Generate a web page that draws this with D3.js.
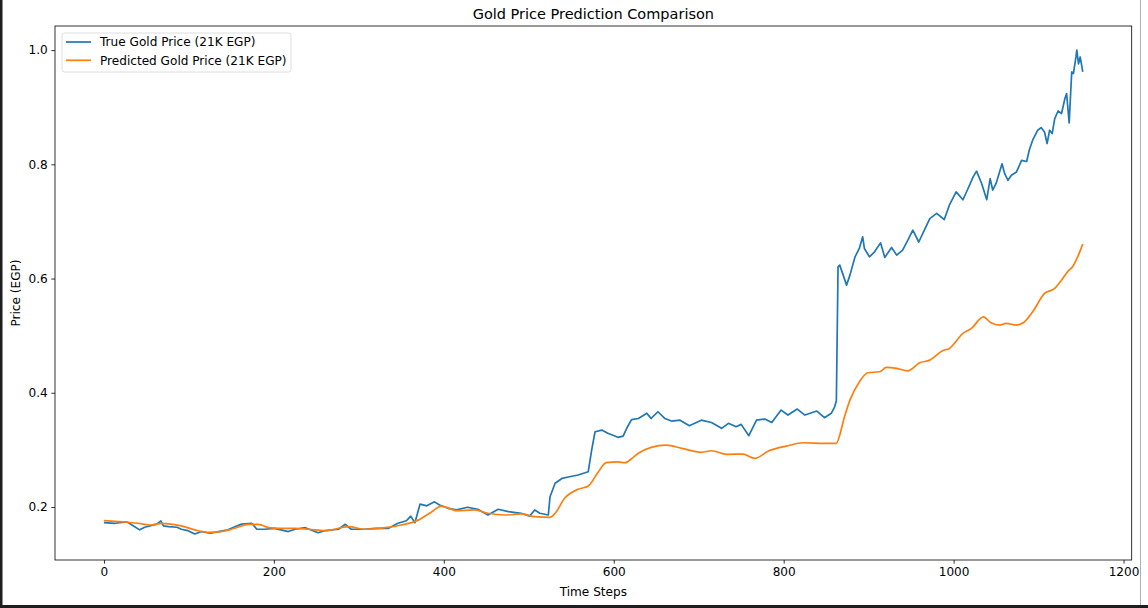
<!DOCTYPE html>
<html>
<head>
<meta charset="utf-8">
<script src="https://cdn.jsdelivr.net/npm/d3@7"></script>
<style>
    body { margin: 0; background: #fff; }
    svg { display: block; font-family: "DejaVu Sans", sans-serif; }
</style>
</head>
<body>
<div id="chart"></div>
<script>
// giá trị (bước thời gian, giá đã chuẩn hoá)
const trueSteps = [0, 13, 27, 33, 42, 48, 54, 62, 67, 70, 76, 86, 91, 99, 107, 115, 125, 135, 146, 154,
    162, 174, 180, 189, 201, 217, 225, 237, 252, 260, 276, 284, 291, 307, 319, 335, 346, 356, 361, 366,
    372, 380, 389, 395, 405, 415, 428, 440, 452, 464, 476, 491, 501, 507, 513, 523, 525, 531, 539, 548,
    558, 570, 574, 578, 586, 593, 605, 611, 616, 621, 629, 639, 644, 652, 660, 668, 678, 689, 703, 715,
    727, 735, 744, 750, 759, 768, 778, 786, 797, 805, 816, 825, 839, 848, 856, 860, 862, 864, 866, 870,
    874, 878, 884, 889, 893, 895, 901, 907, 914, 919, 927, 933, 940, 946, 952, 959, 966, 972, 980, 989,
    995, 1003, 1011, 1017, 1023, 1027, 1033, 1039, 1043, 1046, 1050, 1057, 1060, 1064, 1068, 1074, 1080, 1086, 1089, 1093,
    1099, 1103, 1107, 1110, 1113, 1116, 1119, 1123, 1127, 1131, 1133, 1136, 1139, 1141, 1144, 1145, 1147, 1149, 1152];
const trueValues = [0.1725, 0.1715, 0.174, 0.1685, 0.160, 0.1645, 0.1667, 0.170, 0.1755, 0.167, 0.1655, 0.1645, 0.161, 0.1585, 0.1527, 0.157, 0.154, 0.157, 0.160, 0.1655,
    0.170, 0.1715, 0.161, 0.161, 0.1627, 0.157, 0.161, 0.1638, 0.155, 0.1585, 0.161, 0.1697, 0.161, 0.161, 0.1627, 0.1627, 0.1715, 0.176, 0.184, 0.1725,
    0.205, 0.202, 0.209, 0.2035, 0.1977, 0.195, 0.1995, 0.196, 0.186, 0.196, 0.1918, 0.189, 0.184, 0.1948, 0.189, 0.186, 0.218, 0.2415, 0.250, 0.253,
    0.256, 0.2618, 0.2997, 0.3318, 0.3347, 0.329, 0.322, 0.324, 0.340, 0.353, 0.355, 0.364, 0.355, 0.3668, 0.355, 0.3505, 0.352, 0.3423, 0.352, 0.348,
    0.3377, 0.3465, 0.3405, 0.3447, 0.3248, 0.352, 0.354, 0.348, 0.3697, 0.361, 0.3715, 0.361, 0.368, 0.3563, 0.364, 0.3755, 0.386, 0.6205, 0.6235, 0.606,
    0.5885, 0.606, 0.638, 0.6527, 0.673, 0.6527, 0.638, 0.6468, 0.6625, 0.637, 0.6545, 0.641, 0.6497, 0.667, 0.6847, 0.664, 0.686, 0.705, 0.714, 0.7034,
    0.7285, 0.7517, 0.738, 0.7577, 0.778, 0.788, 0.7665, 0.738, 0.775, 0.755, 0.7665, 0.801, 0.784, 0.772, 0.781, 0.7867, 0.807, 0.805, 0.8247, 0.8422,
    0.8597, 0.8644, 0.8567, 0.8364, 0.8597, 0.8539, 0.88, 0.8934, 0.8889, 0.9152, 0.924, 0.8725, 0.9617, 0.959, 0.988, 1.0, 0.976, 0.988, 0.9617];

const predSteps = [0, 29, 40, 56, 68, 91, 107, 123, 138, 154, 170, 182, 194, 206, 225, 241, 260, 288, 307, 331,
    350, 370, 386, 397, 409, 415, 436, 452, 472, 491, 507, 525, 531, 542, 558, 570, 582, 591, 605, 613,
    623, 629, 644, 662, 680, 703, 715, 733, 752, 766, 782, 805, 823, 848, 862, 866, 871, 878, 889, 899,
    913, 921, 933, 946, 960, 972, 987, 995, 1011, 1021, 1035, 1044, 1054, 1062, 1074, 1082, 1093, 1107, 1119, 1127,
    1135, 1140, 1146, 1152];
const predValues = [0.176, 0.173, 0.1715, 0.1685, 0.1715, 0.167, 0.160, 0.1557, 0.157, 0.1627, 0.1697, 0.1697, 0.1638, 0.1627, 0.1627, 0.161, 0.1585, 0.1655, 0.161, 0.1638,
    0.1685, 0.177, 0.1918, 0.2017, 0.196, 0.1935, 0.1948, 0.189, 0.186, 0.1878, 0.183, 0.182, 0.189, 0.215, 0.231, 0.2367, 0.2618, 0.2776, 0.279, 0.2775,
    0.287, 0.294, 0.3045, 0.3085, 0.3027, 0.2957, 0.2985, 0.2922, 0.2927, 0.2852, 0.298, 0.3073, 0.3125, 0.3115, 0.3115, 0.326, 0.355, 0.3872, 0.419, 0.435,
    0.4368, 0.4444, 0.4427, 0.4385, 0.4525, 0.4572, 0.4735, 0.4777, 0.5039, 0.5127, 0.533, 0.5225, 0.5185, 0.5214, 0.5185, 0.5225, 0.5417, 0.5739, 0.5827, 0.5972,
    0.6135, 0.6205, 0.638, 0.6602];

const xTicks = [0, 200, 400, 600, 800, 1000, 1200];
const yTicks = [0.2, 0.4, 0.6, 0.8, 1.0];
const seriesNames = ["True Gold Price (21K EGP)", "Predicted Gold Price (21K EGP)"];
const seriesColors = ["#1f77b4", "#ff7f0e"];

const W = 1148, H = 608;
const margin = { top: 26, right: 16.3, bottom: 48, left: 55 };
const fs = 12.1;

const trueData = trueSteps.map((s, i) => ({ step: s, value: trueValues[i] }));
const predData = predSteps.map((s, i) => ({ step: s, value: predValues[i] }));

const svg = d3.select("#chart").append("svg")
    .attr("width", W)
    .attr("height", H);

// khung tối của ảnh chụp màn hình
svg.append("rect").attr("x", 0).attr("y", 0).attr("width", 2.5).attr("height", H).attr("fill", "#1e1e1e");
svg.append("rect").attr("x", 0).attr("y", 605).attr("width", W).attr("height", 3).attr("fill", "#1e1e1e");
svg.append("line").attr("x1", 1140.5).attr("x2", 1140.5).attr("y1", 0).attr("y2", 605)
    .attr("stroke", "#b0b0b0").attr("stroke-width", 1);

// thang đo giống matplotlib: lề 5% mỗi phía
const xMin = d3.min(trueSteps), xMax = d3.max(trueSteps);
const xPad = (xMax - xMin) * 0.05;
const x = d3.scaleLinear()
    .domain([xMin - xPad, xMax + xPad])
    .range([margin.left, W - margin.right]);

const y = d3.scaleLinear()
    .domain([0.1072, 1.0422])
    .range([H - margin.bottom, margin.top]);

const chart = svg.append("g");

const line = d3.line()
    .x(d => x(d.step))
    .y(d => y(d.value));

chart.append("path")
    .datum(trueData)
    .attr("d", line)
    .attr("fill", "none")
    .attr("stroke", seriesColors[0])
    .attr("stroke-width", 1.7)
    .attr("stroke-linejoin", "round");

chart.append("path")
    .datum(predData)
    .attr("d", line.curve(d3.curveMonotoneX))
    .attr("fill", "none")
    .attr("stroke", seriesColors[1])
    .attr("stroke-width", 1.7)
    .attr("stroke-linejoin", "round");

// trục
const xAxis = svg.append("g")
    .attr("transform", `translate(0,${H - margin.bottom})`)
    .call(d3.axisBottom(x).tickValues(xTicks).tickSize(3.7).tickPadding(3.6).tickFormat(d3.format("d")));

const yAxis = svg.append("g")
    .attr("transform", `translate(${margin.left},0)`)
    .call(d3.axisLeft(y).tickValues(yTicks).tickSize(3.7).tickPadding(3.6).tickFormat(d3.format(".1f")));

[xAxis, yAxis].forEach(a => {
    a.select(".domain").remove();
    a.selectAll("text").style("font-size", fs + "px").attr("fill", "#000")
        .style("font-family", "DejaVu Sans, sans-serif");
    a.selectAll("line").attr("stroke", "#000").attr("stroke-width", 0.8);
});

svg.append("rect")
    .attr("x", margin.left)
    .attr("y", margin.top)
    .attr("width", W - margin.left - margin.right)
    .attr("height", H - margin.top - margin.bottom)
    .attr("fill", "none")
    .attr("stroke", "#000")
    .attr("stroke-width", 0.8);

// tiêu đề và nhãn trục
svg.append("text")
    .attr("x", (margin.left + W - margin.right) / 2)
    .attr("y", 19)
    .attr("text-anchor", "middle")
    .style("font-size", "14.5px")
    .text("Gold Price Prediction Comparison");

svg.append("text")
    .attr("x", (margin.left + W - margin.right) / 2)
    .attr("y", 596)
    .attr("text-anchor", "middle")
    .style("font-size", fs + "px")
    .text("Time Steps");

svg.append("text")
    .attr("transform", `translate(19.5,${(margin.top + H - margin.bottom) / 2}) rotate(-90)`)
    .attr("text-anchor", "middle")
    .style("font-size", fs + "px")
    .text("Price (EGP)");

// chú thích
const legend = svg.append("g").attr("transform", "translate(62,33)");

legend.append("rect")
    .attr("width", 229)
    .attr("height", 39)
    .attr("rx", 2.5)
    .attr("fill", "#fff")
    .attr("fill-opacity", 0.8)
    .attr("stroke", "#d6d6d6")
    .attr("stroke-width", 0.8);

legend.selectAll(".lg-line")
    .data(seriesNames)
    .enter()
    .append("line")
    .attr("x1", 4)
    .attr("x2", 29)
    .attr("y1", (d, i) => 9 + i * 18.3)
    .attr("y2", (d, i) => 9 + i * 18.3)
    .attr("stroke", (d, i) => seriesColors[i])
    .attr("stroke-width", 1.7);

legend.selectAll(".lg-text")
    .data(seriesNames)
    .enter()
    .append("text")
    .attr("x", 38)
    .attr("y", (d, i) => 13.3 + i * 18.3)
    .style("font-size", fs + "px")
    .text(d => d);
</script>
</body>
</html>
